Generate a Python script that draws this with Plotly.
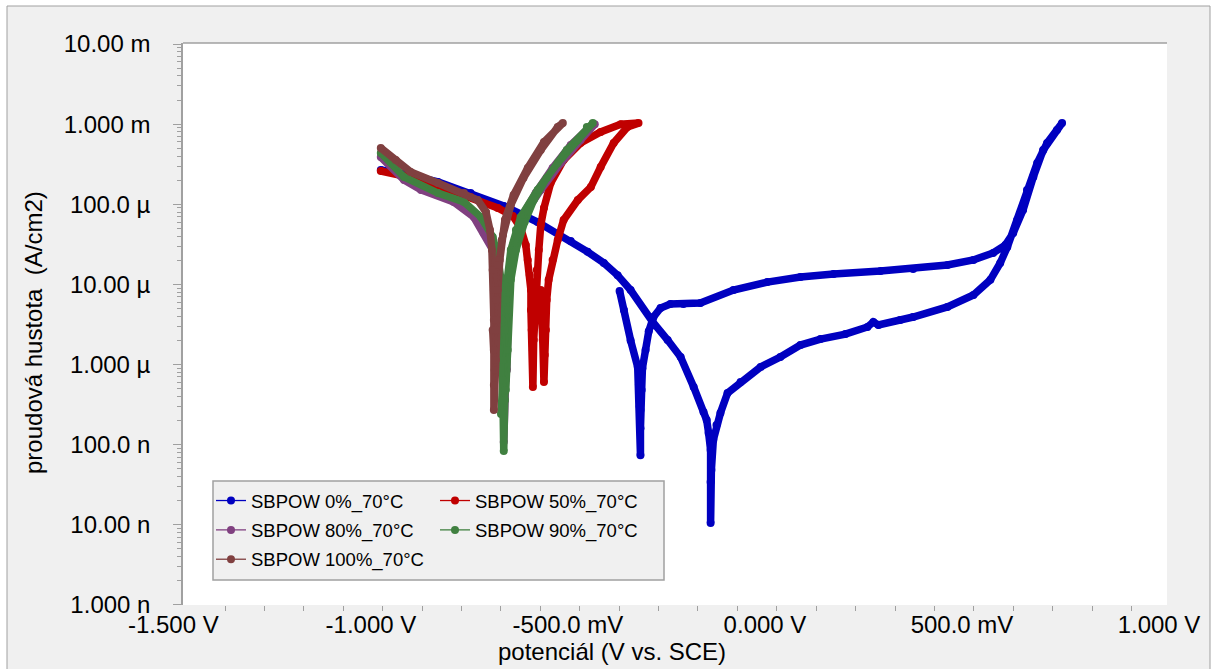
import plotly.graph_objects as go

# ---------------- data (potential in V vs. SCE, current density in A/cm2) ----------------
v_0 = [-0.975, -0.916, -0.830, -0.747, -0.663, -0.577, -0.493, -0.450, -0.409, -0.374, -0.341, -0.285,
       -0.247, -0.214, -0.181, -0.156, -0.148, -0.143, -0.138, -0.138, -0.138, -0.136,
       -0.131, -0.123, -0.113, -0.095, -0.062, -0.011, 0.039, 0.090, 0.141, 0.204,
       0.260, 0.275, 0.288, 0.343, 0.376, 0.463, 0.529, 0.572, 0.597, 0.615,
       0.640, 0.665, 0.691, 0.716, 0.754,
       0.741, 0.706, 0.681, 0.655, 0.630, 0.610, 0.579, 0.529, 0.463, 0.376,
       0.293, 0.174, 0.090, 0.006, -0.080, -0.164, -0.207, -0.240, -0.265, -0.283,
       -0.295, -0.303, -0.311, -0.313, -0.316, -0.316, -0.316, -0.318, -0.320, -0.323,
       -0.341, -0.358, -0.369]
i_0 = [2.68e-4, 2.39e-4, 1.90e-4, 1.38e-4, 9.52e-5, 6.01e-5, 3.48e-5, 2.55e-5, 1.85e-5, 1.30e-5, 8.51e-6, 3.40e-6,
       2.02e-6, 1.24e-6, 5.25e-7, 2.56e-7, 2.03e-7, 1.40e-7, 8.59e-8, 3.43e-8, 1.05e-8, 4.83e-8,
       1.15e-7, 1.76e-7, 2.49e-7, 4.42e-7, 6.05e-7, 9.33e-7, 1.24e-6, 1.75e-6, 2.08e-6, 2.40e-6,
       2.94e-6, 3.40e-6, 3.12e-6, 3.60e-6, 3.92e-6, 5.23e-6, 7.38e-6, 1.14e-5, 1.85e-5, 2.93e-5,
       6.37e-5, 1.51e-4, 3.27e-4, 5.82e-4, 1.03e-3,
       8.45e-4, 4.75e-4, 2.19e-4, 8.49e-5, 4.38e-5, 3.10e-5, 2.47e-5, 2.02e-5, 1.75e-5, 1.56e-5,
       1.47e-5, 1.35e-5, 1.24e-5, 1.07e-5, 8.51e-6, 5.86e-6, 5.70e-6, 5.70e-6, 5.08e-6, 3.92e-6,
       2.60e-6, 1.52e-6, 9.0e-7, 4.8e-7, 2.7e-7, 1.6e-7, 7.4e-8, 3.0e-7, 5.6e-7, 9.3e-7,
       2.0e-6, 4.8e-6, 8.3e-6]

v_50 = [-0.975, -0.916, -0.830, -0.747, -0.678, -0.640, -0.620, -0.607, -0.602, -0.597,
        -0.594, -0.594, -0.592, -0.589, -0.589, -0.587, -0.584, -0.582, -0.579, -0.574,
        -0.569, -0.561, -0.544, -0.511, -0.468, -0.417, -0.366, -0.321,
        -0.349, -0.384, -0.417, -0.442, -0.475, -0.511, -0.526, -0.539, -0.549, -0.554,
        -0.556, -0.559, -0.561, -0.564, -0.567, -0.569]
i_50 = [2.60e-4, 2.25e-4, 1.69e-4, 1.23e-4, 8.99e-5, 7.14e-5, 5.06e-5, 3.10e-5, 2.02e-5, 1.31e-5,
        8.51e-6, 4.80e-6, 2.70e-6, 1.52e-6, 5.25e-7, 2.02e-6, 4.80e-6, 8.51e-6, 1.51e-5, 2.69e-5,
        5.51e-5, 8.99e-5, 1.84e-4, 3.57e-4, 5.82e-4, 7.98e-4, 1.00e-3, 1.03e-3,
        9.21e-4, 5.82e-4, 2.92e-4, 1.64e-4, 1.13e-4, 6.37e-5, 3.58e-5, 2.02e-5, 1.14e-5, 6.39e-6,
        2.70e-6, 1.32e-6, 6.05e-7, 2.02e-6, 4.80e-6, 8.51e-6]

v_80 = [-0.975, -0.916, -0.873, -0.790, -0.739, -0.714, -0.691, -0.676, -0.663, -0.658,
        -0.658, -0.660, -0.663,
        -0.658, -0.655, -0.653, -0.650, -0.638, -0.615, -0.569, -0.518, -0.468, -0.432,
        -0.447, -0.493, -0.539, -0.582, -0.615, -0.635, -0.645, -0.650, -0.653, -0.655]
i_80 = [3.89e-4, 2.01e-4, 1.51e-4, 1.07e-4, 6.93e-5, 4.38e-5, 2.69e-5, 1.51e-5, 6.39e-6, 2.70e-6,
        1.14e-6, 3.61e-7, 1.08e-7,
        6.41e-7, 2.70e-6, 6.39e-6, 1.14e-5, 3.10e-5, 6.93e-5, 1.51e-4, 3.27e-4, 6.34e-4, 1.00e-3,
        8.95e-4, 5.50e-4, 2.84e-4, 1.38e-4, 7.35e-5, 3.58e-5, 1.75e-5, 8.51e-6, 2.70e-6, 8.55e-7]

v_90 = [-0.975, -0.916, -0.830, -0.764, -0.721, -0.691, -0.678, -0.670, -0.668, -0.665,
        -0.665, -0.663,
        -0.660, -0.660, -0.658, -0.655, -0.645, -0.632, -0.620, -0.577, -0.526, -0.475, -0.437,
        -0.452, -0.503, -0.554, -0.587, -0.610, -0.632, -0.645, -0.650, -0.653, -0.658,
        -0.670, -0.665]
i_90 = [4.37e-4, 2.19e-4, 1.38e-4, 1.07e-4, 6.93e-5, 3.91e-5, 2.20e-5, 1.14e-5, 3.60e-6, 1.14e-6,
        3.61e-7, 8.34e-8,
        3.61e-7, 2.70e-6, 6.39e-6, 1.04e-5, 2.69e-5, 4.78e-5, 6.93e-5, 1.51e-4, 3.27e-4, 6.34e-4, 1.03e-3,
        9.21e-4, 4.75e-4, 2.13e-4, 1.13e-4, 6.01e-5, 2.69e-5, 1.14e-5, 4.80e-6, 1.52e-6, 4.82e-7,
        2.42e-7, 6.41e-7]

v_100 = [-0.975, -0.937, -0.899, -0.830, -0.764, -0.729, -0.708, -0.698, -0.693, -0.691,
         -0.688, -0.688, -0.688, -0.688, -0.688,
         -0.683, -0.681, -0.678, -0.673, -0.668, -0.660, -0.638, -0.602, -0.561, -0.513,
         -0.526, -0.569, -0.613, -0.645, -0.665, -0.676, -0.681, -0.683, -0.686, -0.691]
i_100 = [5.04e-4, 3.57e-4, 2.53e-4, 1.84e-4, 1.38e-4, 1.13e-4, 8.01e-5, 4.78e-5, 2.69e-5, 1.51e-5,
         8.51e-6, 3.60e-6, 1.52e-6, 5.56e-7, 2.71e-7,
         1.14e-6, 3.60e-6, 8.51e-6, 2.02e-5, 3.58e-5, 6.37e-5, 1.31e-4, 2.84e-4, 5.98e-4, 1.03e-3,
         9.21e-4, 4.75e-4, 2.13e-4, 9.80e-5, 4.14e-5, 1.75e-5, 6.39e-6, 2.70e-6, 8.55e-7, 2.70e-6]

series_names = ["SBPOW 0%_70°C", "SBPOW 50%_70°C", "SBPOW 80%_70°C",
                "SBPOW 90%_70°C", "SBPOW 100%_70°C"]
series_v = [v_0, v_50, v_80, v_90, v_100]
series_i = [i_0, i_50, i_80, i_90, i_100]
series_colors = ["#0000c0", "#c00000", "#804080", "#408040", "#804040"]
series_legend = ["legend", "legend2", "legend", "legend2", "legend"]

y_tickvals = [1e-2, 1e-3, 1e-4, 1e-5, 1e-6, 1e-7, 1e-8, 1e-9]
y_ticktext = ["10.00 m", "1.000 m", "100.0 µ", "10.00 µ", "1.000 µ", "100.0 n", "10.00 n", "1.000 n"]
x_tickvals = [-1.5, -1.0, -0.5, 0.0, 0.5, 1.0]
x_ticktext = ["-1.500 V", "-1.000 V", "-500.0 mV", "0.000 V", "500.0 mV", "1.000 V"]

# ---------------- figure ----------------
FONT = "Liberation Sans, Arial, sans-serif"
GRAY = "#a0a0a0"
XMIN, XMAX = -1.477, 1.0203
W, H = 1212, 669
ML, MR, MT, MB = 183, 45, 43, 64

fig = go.Figure()
for name, vv, ii, col, lg in zip(series_names, series_v, series_i, series_colors, series_legend):
    fig.add_trace(go.Scatter(x=vv, y=ii, mode="lines",
                             line=dict(color=col, width=7.5),
                             legendgroup=name, showlegend=False, hoverinfo="skip"))
    fig.add_trace(go.Scatter(x=vv, y=ii, mode="lines+markers", name=name,
                             line=dict(color=col, width=1.3),
                             marker=dict(color=col, size=8),
                             legendgroup=name, legend=lg))

pw = W - ML - MR
ph = H - MT - MB

def px_x(p):
    return (p - ML) / pw

def px_y(p):
    return (H - MB - p) / ph

shapes = [
    # outer frame
    dict(type="rect", xref="paper", yref="paper", x0=px_x(7), x1=px_x(1210),
         y0=px_y(690), y1=px_y(6), fillcolor="#f0f0f0", line=dict(color=GRAY, width=1),
         layer="below"),
    # plot area background
    dict(type="rect", xref="paper", yref="paper", x0=0, x1=1, y0=0, y1=1,
         fillcolor="white", line=dict(width=0), layer="below"),
    # top border of plot area
    dict(type="line", xref="paper", yref="paper", x0=0, x1=1, y0=1, y1=1,
         line=dict(color=GRAY, width=1.5), layer="above"),
    # legend box
    dict(type="rect", xref="paper", yref="paper", x0=px_x(213), x1=px_x(664),
         y0=px_y(580), y1=px_y(481), fillcolor="#f0f0f0", line=dict(color=GRAY, width=1.5),
         layer="above"),
]

annotations = []
for tv, tt in zip(x_tickvals, x_ticktext):
    if tv < XMIN:
        annotations.append(dict(text=tt, xref="paper", yref="paper",
                                x=(tv - XMIN) / (XMAX - XMIN), y=px_y(624),
                                showarrow=False, xanchor="center", yanchor="middle",
                                font=dict(family=FONT, size=24, color="black")))
annotations.append(dict(text="potenciál (V vs. SCE)", xref="paper", yref="paper",
                        x=px_x(612), y=px_y(651), showarrow=False,
                        xanchor="center", yanchor="middle",
                        font=dict(family=FONT, size=24, color="black")))
annotations.append(dict(text="proudová hustota \u00a0(A/cm2)", xref="paper", yref="paper",
                        x=px_x(33), y=px_y(333), showarrow=False, textangle=-90,
                        xanchor="center", yanchor="middle",
                        font=dict(family=FONT, size=24, color="black")))

minor_x = [round(-1.37 + 0.1 * k, 3) for k in range(24)]
minor_y = [m * 10.0 ** e for e in range(-9, -2) for m in range(2, 10)]

fig.update_layout(
    width=W, height=H,
    margin=dict(l=ML, r=MR, t=MT, b=MB, pad=0),
    paper_bgcolor="white", plot_bgcolor="white",
    font=dict(family=FONT, size=24, color="black"),
    shapes=shapes, annotations=annotations,
    xaxis=dict(range=[XMIN, XMAX], tickmode="array",
               tickvals=[v for v in x_tickvals if v >= XMIN],
               ticktext=[t for v, t in zip(x_tickvals, x_ticktext) if v >= XMIN],
               ticks="", showgrid=False, zeroline=False, showline=False,
               tickfont=dict(family=FONT, size=24, color="black"), ticklabelstandoff=3,
               minor=dict(tickmode="array", tickvals=minor_x, ticks="outside", ticklen=5,
                          tickcolor=GRAY, tickwidth=1, showgrid=False)),
    yaxis=dict(type="log", range=[-9.0005, -1.9875], tickmode="array",
               tickvals=y_tickvals, ticktext=y_ticktext,
               ticks="outside", ticklen=8, tickcolor=GRAY, tickwidth=1,
               showgrid=False, zeroline=False, showline=True, linecolor=GRAY, linewidth=1.5,
               tickfont=dict(family=FONT, size=24, color="black"), ticklabelstandoff=18,
               minor=dict(tickmode="array", tickvals=minor_y, ticks="outside", ticklen=4,
                          tickcolor=GRAY, tickwidth=1, showgrid=False)),
    legend=dict(x=px_x(211), y=px_y(482), xanchor="left", yanchor="top",
                bgcolor="rgba(0,0,0,0)", borderwidth=0, tracegroupgap=2.3,
                font=dict(family=FONT, size=18.5, color="black"), itemsizing="trace"),
    legend2=dict(x=px_x(435), y=px_y(482), xanchor="left", yanchor="top",
                 bgcolor="rgba(0,0,0,0)", borderwidth=0, tracegroupgap=2.3,
                 font=dict(family=FONT, size=18.5, color="black"), itemsizing="trace"),
    showlegend=True,
)

fig.write_html("out.html")
